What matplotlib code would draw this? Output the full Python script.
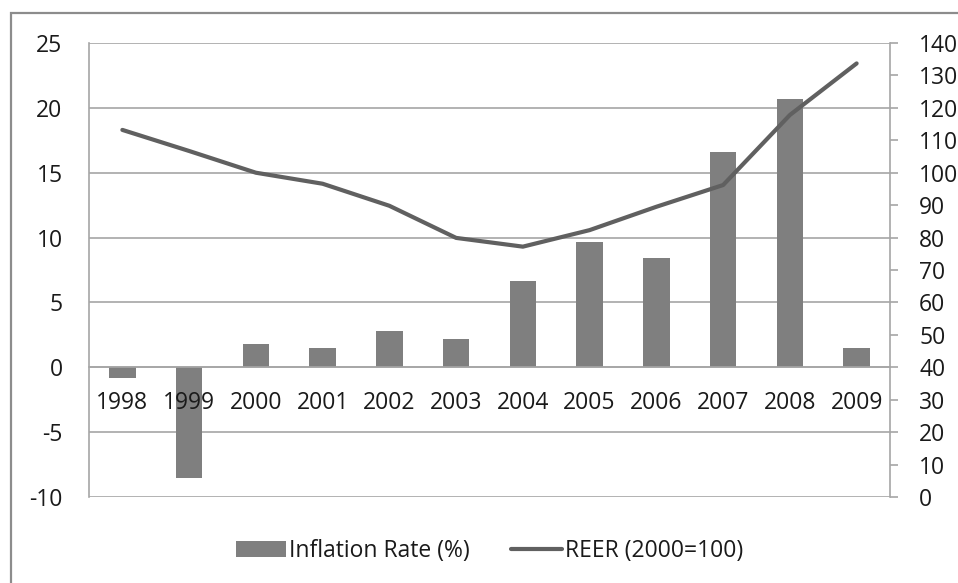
import numpy as np
import matplotlib.pyplot as plt
from matplotlib.patches import Rectangle

years = ['1998', '1999', '2000', '2001', '2002', '2003',
         '2004', '2005', '2006', '2007', '2008', '2009']
inflation = [-0.8, -8.5, 1.8, 1.45, 2.8, 2.2, 6.65, 9.65, 8.4, 16.6, 20.7, 1.45]
reer = [113.2, 106.7, 100.0, 96.6, 89.8, 79.9, 77.2, 82.3, 89.5, 96.2, 117.8, 133.7]

plt.rcParams['font.family'] = ['Open Sans', 'DejaVu Sans']
plt.rcParams['axes.unicode_minus'] = False
fs = 16.5
grid_c = '#a6a6a6'
txt_c = '#1a1a1a'

fig = plt.figure(figsize=(9.58, 5.83), dpi=100)
ax = fig.add_axes([89/958, 1-497/583, (890-89)/958, (497-43)/583])
ax2 = ax.twinx()

x = np.arange(len(years))
ax.bar(x, inflation, width=0.4, color='#7f7f7f', label='Inflation Rate (%)', zorder=2)
ax2.plot(x, reer, color='#606060', lw=3.0, solid_capstyle='round',
         label='REER (2000=100)')

ax.set_xlim(-0.5, len(years)-0.5)
ax.set_ylim(-10, 25)
ax.set_yticks(np.arange(-10, 26, 5))
ax2.set_ylim(0, 140)
ax2.set_yticks(np.arange(0, 141, 10))

ax.grid(axis='y', color=grid_c, lw=1.2, zorder=0)
ax.set_axisbelow(True)

for a in (ax, ax2):
    for s in a.spines.values():
        s.set_color(grid_c)
        s.set_linewidth(1.2)
ax.spines['top'].set_visible(False)
ax2.spines['top'].set_visible(False)
ax2.spines['left'].set_visible(False)
ax2.spines['bottom'].set_visible(False)
ax.spines['right'].set_visible(False)
ax.spines['bottom'].set_position(('data', 0))
ax.spines['bottom'].set_zorder(3)

# category labels sit just under the zero line, on top of the bars
ax.set_xticks(x)
ax.set_xticklabels([])
ax.tick_params(axis='x', length=0)
for xi, yr in zip(x, years):
    ax.annotate(yr, (xi, 0), xytext=(0, -26), textcoords='offset points',
                ha='center', va='center', fontsize=fs, color=txt_c, zorder=4)

ax.tick_params(axis='y', length=0, pad=19, labelsize=fs, labelcolor=txt_c)
ax2.tick_params(axis='y', length=6, width=1.2, color=grid_c, pad=15,
                labelsize=fs, labelcolor=txt_c)

h1, l1 = ax.get_legend_handles_labels()
h2, l2 = ax2.get_legend_handles_labels()
fig.legend(h1 + h2, l1 + l2, loc='center', bbox_to_anchor=(0.511, 1-551/583),
           ncol=2, frameon=False, fontsize=fs, handlelength=2.2,
           handletextpad=0.15, columnspacing=1.8, labelcolor=txt_c)

# outer chart border, cut off on the right and bottom
fig.patches.append(Rectangle((11/958, -0.05), 1.1, 1-13/583+0.05,
                             transform=fig.transFigure, fill=False,
                             edgecolor='#8c8c8c', lw=1.6))

fig.savefig('out.png', dpi=100)
